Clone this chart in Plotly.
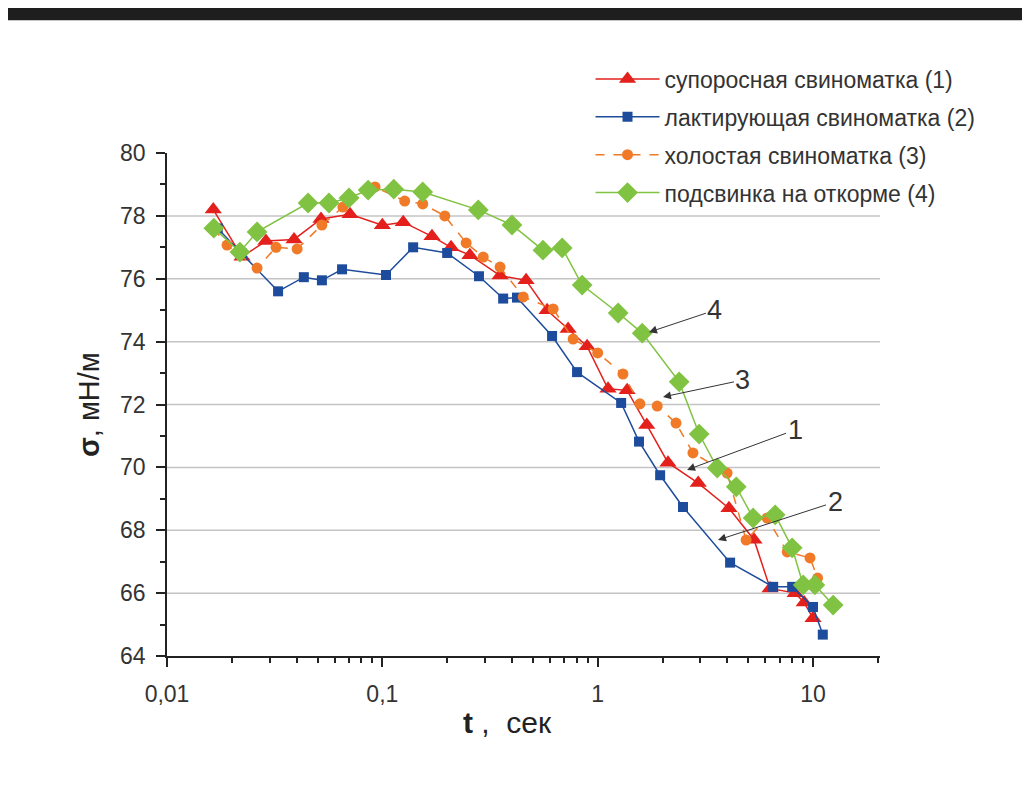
import math
import plotly.graph_objects as go

# ---- data ----
names = [
    "супоросная свиноматка (1)",
    "лактирующая свиноматка (2)",
    "холостая свиноматка (3)",
    "подсвинка на откорме (4)",
]

t1 = [0.0164, 0.0223, 0.0288, 0.0389, 0.0519, 0.0708, 0.100, 0.125, 0.170, 0.2085,
      0.255, 0.352, 0.465, 0.582, 0.729, 0.893, 1.117, 1.37, 1.69, 2.12,
      2.93, 4.07, 5.32, 6.32, 8.26, 9.1, 10.0]
s1 = [78.2, 76.7, 77.2, 77.25, 77.9, 78.05, 77.7, 77.8, 77.35, 77.0,
      76.75, 76.1, 75.95, 75.0, 74.4, 73.85, 72.5, 72.45, 71.35, 70.15,
      69.5, 68.7, 67.7, 66.15, 66.0, 65.7, 65.2]

t2 = [0.0172, 0.0223, 0.0328, 0.0432, 0.0524, 0.065, 0.104, 0.139, 0.200, 0.281,
      0.364, 0.422, 0.614, 0.802, 1.285, 1.556, 1.95, 2.49, 4.12, 6.53,
      8.0, 10.0, 11.1]
s2 = [77.6, 76.8, 75.6, 76.05, 75.95, 76.3, 76.12, 77.0, 76.82, 76.08,
      75.37, 75.4, 74.18, 73.03, 72.05, 70.82, 69.75, 68.74, 66.97, 66.2,
      66.2, 65.56, 64.68]

t3 = [0.0165, 0.019, 0.0262, 0.0321, 0.0402, 0.0524, 0.0656, 0.0925, 0.127, 0.154,
      0.195, 0.245, 0.294, 0.352, 0.451, 0.621, 0.769, 1.0, 1.31, 1.57,
      1.89, 2.31, 2.77, 3.99, 4.89, 6.12, 7.59, 9.68, 10.5]
s3 = [77.6, 77.07, 76.34, 77.0, 76.95, 77.71, 78.28, 78.92, 78.47, 78.38,
      78.0, 77.14, 76.69, 76.37, 75.42, 75.04, 74.08, 73.64, 72.97, 72.02,
      71.95, 71.41, 70.46, 69.82, 67.69, 68.39, 67.31, 67.12, 66.48]

t4 = [0.0165, 0.0218, 0.0262, 0.0452, 0.0565, 0.070, 0.0859, 0.113, 0.154, 0.279,
      0.400, 0.557, 0.684, 0.847, 1.245, 1.61, 2.39, 2.96, 3.59, 4.40,
      5.27, 6.67, 8.0, 9.0, 10.2, 12.4]
s4 = [77.61, 76.85, 77.49, 78.41, 78.41, 78.57, 78.82, 78.85, 78.76, 78.19,
      77.71, 76.91, 76.98, 75.8, 74.91, 74.27, 72.72, 71.06, 69.98, 69.38,
      68.39, 68.49, 67.44, 66.26, 66.26, 65.62]

x_major = [0.01, 0.1, 1, 10]
x_major_text = ["0,01", "0,1", "1", "10"]
x_minor = [m * d for d in (0.01, 0.1, 1) for m in range(2, 10)] + [20]
y_major = [64, 66, 68, 70, 72, 74, 76, 78, 80]
y_minor = [65, 67, 69, 71, 73, 75, 77, 79]
grid_levels = [66, 68, 70, 72, 74, 76, 78]

# curve label annotations: label, target t, target sigma
callout_labels = ["4", "3", "1", "2"]
callout_t = [1.73, 2.01, 2.60, 3.62]
callout_s = [74.3, 72.24, 69.92, 67.69]
callout_ax = [66, 80, 108, 117]
callout_ay = [-22, -17, -40, -38]

# ---- figure ----
colors = ["#e3201c", "#1d4c9c", "#f07a28", "#80c342"]
symbols = ["triangle-up", "square", "circle", "diamond"]
sizes = [15, 10, 11, 16]
dashes = ["solid", "solid", "dash", "solid"]
xs = [t1, t2, t3, t4]
ys = [s1, s2, s3, s4]

FONT = "Liberation Sans, Arial, sans-serif"

fig = go.Figure()
for i in range(4):
    fig.add_trace(go.Scatter(
        x=xs[i], y=ys[i], mode="lines+markers", name=names[i],
        legendgroup=f"g{i}",
        line=dict(color=colors[i], width=1.5, dash=dashes[i]),
        marker=dict(symbol=symbols[i], size=sizes[i], color=colors[i],
                    line=dict(width=0)),
    ))

shapes = []
for g in grid_levels:
    shapes.append(dict(type="line", xref="paper", x0=0, x1=1, yref="y", y0=g, y1=g,
                       line=dict(color="#c4c4c4", width=1.5), layer="below"))
# dark frame strip of the screenshot (top)
shapes.append(dict(type="rect", xref="paper", yref="paper", x0=-0.25, x1=1.25,
                   y0=1.264, y1=1.32, fillcolor="#1e1e1e", line=dict(width=0), layer="above"))

annotations = []
for lab, tx, sy, ax, ay in zip(callout_labels, callout_t, callout_s, callout_ax, callout_ay):
    annotations.append(dict(
        x=math.log10(tx), y=sy, xref="x", yref="y", text=lab,
        showarrow=True, ax=ax, ay=ay, arrowhead=2, arrowsize=1.6, arrowwidth=1,
        arrowcolor="#333333", font=dict(size=27, color="#333333", family=FONT),
    ))
annotations.append(dict(
    text="<b>σ</b>, мН/м", xref="paper", yref="paper", x=-0.11, y=0.50,
    xanchor="center", yanchor="middle",
    textangle=-90, showarrow=False, font=dict(size=29, color="#222222", family=FONT)))
annotations.append(dict(
    text="<b>t</b> ,  сек", xref="paper", yref="paper", x=0.478, y=-0.133,
    xanchor="center", yanchor="middle",
    showarrow=False, font=dict(size=30, color="#222222", family=FONT)))

fig.update_layout(
    width=1022, height=779,
    margin=dict(l=159, r=150, t=145, b=131),
    paper_bgcolor="white", plot_bgcolor="white",
    font=dict(family=FONT, color="#333333", size=22),
    shapes=shapes, annotations=annotations,
    legend=dict(x=0.594, y=1.19, xanchor="left", yanchor="top",
                font=dict(size=23, color="#333333", family=FONT), itemwidth=64,
                tracegroupgap=5, bgcolor="rgba(0,0,0,0)"),
    xaxis=dict(type="log", range=[-2, 1.311], showgrid=False, zeroline=False,
               showline=True, linecolor="#222222", linewidth=1.5,
               ticks="outside", ticklen=9, tickwidth=1.5, tickcolor="#222222",
               tickmode="array", tickvals=x_major, ticktext=x_major_text,
               ticklabelstandoff=8, tickfont=dict(size=23),
               minor=dict(tickmode="array", tickvals=x_minor, ticks="outside",
                          ticklen=5, tickwidth=1.5, tickcolor="#222222", showgrid=False)),
    yaxis=dict(range=[64, 80], showgrid=False, zeroline=False,
               showline=True, linecolor="#222222", linewidth=1.5,
               ticks="outside", ticklen=9, tickwidth=1.5, tickcolor="#222222",
               tickmode="array", tickvals=y_major, ticklabelstandoff=6,
               tickfont=dict(size=23),
               minor=dict(tickmode="array", tickvals=y_minor, ticks="outside",
                          ticklen=5, tickwidth=1.5, tickcolor="#222222", showgrid=False)),
)

fig.write_html("out.html")
